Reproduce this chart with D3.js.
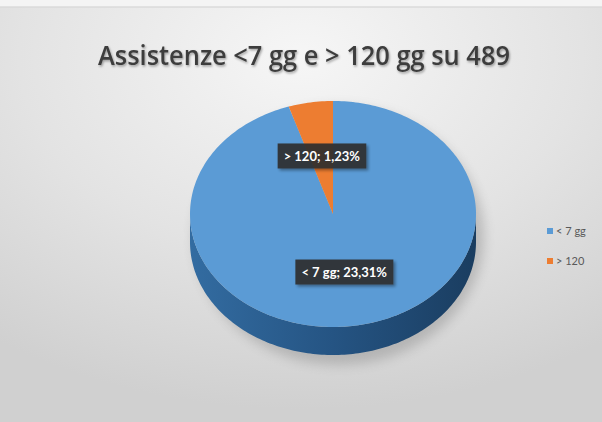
<!DOCTYPE html>
<html>
<head>
<meta charset="utf-8">
<script src="https://cdn.jsdelivr.net/npm/d3@7/dist/d3.min.js"></script>
<style>
  html, body { margin: 0; padding: 0; background: #f3f3f3; }
  svg { display: block; }
</style>
</head>
<body>
<svg id="chart" width="602" height="422"></svg>
<script>
// Chart data
const titleText = "Assistenze <7 gg e > 120 gg su 489";
const categories = ["< 7 gg", "> 120"];
const labelNames = ["< 7 gg", "> 120"];
const values = [23.31, 1.23];          // percentages of the 489 cases
const colors = ["#5b9bd5", "#ed7d31"];

const W = 602, H = 422;
const svg = d3.select("#chart");
const defs = svg.append("defs");

// Background: soft grey slide panel
const bg = defs.append("radialGradient").attr("id", "bg")
  .attr("cx", 0.5).attr("cy", 0.12).attr("r", 0.85)
  .attr("gradientUnits", "objectBoundingBox");
bg.append("stop").attr("offset", "0%").attr("stop-color", "#f6f6f6");
bg.append("stop").attr("offset", "55%").attr("stop-color", "#e3e3e3");
bg.append("stop").attr("offset", "100%").attr("stop-color", "#d0d0d0");

svg.append("rect").attr("width", W).attr("height", H).attr("fill", "#f4f4f4");
svg.append("rect").attr("x", 0).attr("y", 7).attr("width", W).attr("height", H - 7)
  .attr("fill", "url(#bg)");
svg.append("rect").attr("x", 0).attr("y", 6).attr("width", W).attr("height", 2)
  .attr("fill", "#d9d9d9").attr("opacity", 0.7);

// Title
const tShadow = defs.append("filter").attr("id", "tshadow")
  .attr("x", "-5%").attr("y", "-20%").attr("width", "110%").attr("height", "150%");
tShadow.append("feDropShadow").attr("dx", 1).attr("dy", 1.5).attr("stdDeviation", 1)
  .attr("flood-color", "#000").attr("flood-opacity", 0.35);

svg.append("text")
  .attr("x", 304).attr("y", 65)
  .attr("text-anchor", "middle")
  .attr("font-family", "'Open Sans', Lato, sans-serif")
  .attr("font-weight", 600)
  .attr("font-size", 27)
  .attr("fill", "#3d3d3d")
  .attr("textLength", 412)
  .attr("lengthAdjust", "spacingAndGlyphs")
  .attr("filter", "url(#tshadow)")
  .text(titleText);

// 3D pie geometry
const cx = 333, cy = 214, rx = 143, ry = 113, depth = 28;

const pie = d3.pie().sort(null).value(d => d);
const arcs = pie(values);

// angle 0 at 12 o'clock, clockwise; projected on a tilted ellipse
const px = (a, k = 1) => cx + k * rx * Math.sin(a);
const py = (a, k = 1) => cy - k * ry * Math.cos(a);

function topPath(d) {
  const steps = Math.max(2, Math.ceil((d.endAngle - d.startAngle) / 0.02));
  const p = d3.path();
  p.moveTo(cx, cy);
  for (let i = 0; i <= steps; i++) {
    const a = d.startAngle + (d.endAngle - d.startAngle) * i / steps;
    p.lineTo(px(a), py(a));
  }
  p.closePath();
  return p.toString();
}

function sidePath(d) {
  // only the front half (between 90° and 270°) shows a wall
  const a0 = Math.max(d.startAngle, Math.PI / 2);
  const a1 = Math.min(d.endAngle, Math.PI * 1.5);
  if (a1 <= a0) return null;
  const steps = Math.ceil((a1 - a0) / 0.02);
  const p = d3.path();
  p.moveTo(px(a0), py(a0));
  for (let i = 1; i <= steps; i++) {
    const a = a0 + (a1 - a0) * i / steps;
    p.lineTo(px(a), py(a));
  }
  for (let i = steps; i >= 0; i--) {
    const a = a0 + (a1 - a0) * i / steps;
    p.lineTo(px(a), py(a) + depth);
  }
  p.closePath();
  return p.toString();
}

// soft drop shadow under the pie
const pShadow = defs.append("filter").attr("id", "pshadow")
  .attr("x", "-20%").attr("y", "-20%").attr("width", "140%").attr("height", "140%");
pShadow.append("feGaussianBlur").attr("stdDeviation", 6);
svg.append("ellipse")
  .attr("cx", cx + 6).attr("cy", cy + depth / 2 + 8)
  .attr("rx", rx + 2).attr("ry", ry + depth / 2 + 2)
  .attr("fill", "#8a8a8a").attr("opacity", 0.45)
  .attr("filter", "url(#pshadow)");

// side wall gradients
const sideGrads = [
  ["#336ca1", "#255483", "#1a3d60"],
  ["#c2601f", "#a9501a", "#8a4113"]
];
sideGrads.forEach((g, i) => {
  const lg = defs.append("linearGradient").attr("id", "side" + i)
    .attr("gradientUnits", "userSpaceOnUse")
    .attr("x1", cx - rx).attr("x2", cx + rx).attr("y1", 0).attr("y2", 0);
  lg.append("stop").attr("offset", "0%").attr("stop-color", g[0]);
  lg.append("stop").attr("offset", "50%").attr("stop-color", g[1]);
  lg.append("stop").attr("offset", "100%").attr("stop-color", g[2]);
});

const g = svg.append("g");
g.selectAll("path.side").data(arcs).join("path")
  .attr("class", "side")
  .attr("d", d => sidePath(d))
  .attr("fill", (d, i) => `url(#side${i})`);

g.selectAll("path.top").data(arcs).join("path")
  .attr("class", "top")
  .attr("d", d => topPath(d))
  .attr("fill", (d, i) => colors[i]);

// Data labels: dark boxes with white bold text
const fmt = v => d3.format(".2f")(v).replace(".", ",") + "%";
const lShadow = defs.append("filter").attr("id", "lshadow")
  .attr("x", "-20%").attr("y", "-30%").attr("width", "140%").attr("height", "170%");
lShadow.append("feDropShadow").attr("dx", 2).attr("dy", 2).attr("stdDeviation", 1.5)
  .attr("flood-color", "#000").attr("flood-opacity", 0.4);

const labels = g.selectAll("g.lbl").data(arcs).join("g").attr("class", "lbl")
  .attr("transform", d => {
    const a = (d.startAngle + d.endAngle) / 2;
    return `translate(${px(a, 0.5)},${py(a, 0.52)})`;
  });

labels.each(function(d, i) {
  const sel = d3.select(this);
  const t = sel.append("text")
    .attr("text-anchor", "middle")
    .attr("dy", "0.36em")
    .attr("font-family", "Lato, 'Open Sans', sans-serif")
    .attr("font-weight", "bold")
    .attr("font-size", 13)
    .attr("fill", "#ffffff")
    .text(labelNames[i] + "; " + fmt(d.data));
  const bb = t.node().getBBox();
  sel.insert("rect", "text")
    .attr("x", bb.x - 6).attr("y", -12.5)
    .attr("width", bb.width + 12).attr("height", 25)
    .attr("fill", "#2e2e2e").attr("opacity", 0.92)
    .attr("filter", "url(#lshadow)");
});

// Legend
const legend = svg.append("g").attr("transform", "translate(547,231)");
const li = legend.selectAll("g").data(categories).join("g")
  .attr("transform", (d, i) => `translate(0,${i * 30})`);
li.append("rect").attr("x", 0).attr("y", -3).attr("width", 6).attr("height", 6)
  .attr("fill", (d, i) => colors[i]);
li.append("text").attr("x", 9).attr("dy", "0.35em")
  .attr("font-family", "Lato, 'Open Sans', sans-serif")
  .attr("font-size", 11).attr("fill", "#595959")
  .text(d => d);
</script>
</body>
</html>
